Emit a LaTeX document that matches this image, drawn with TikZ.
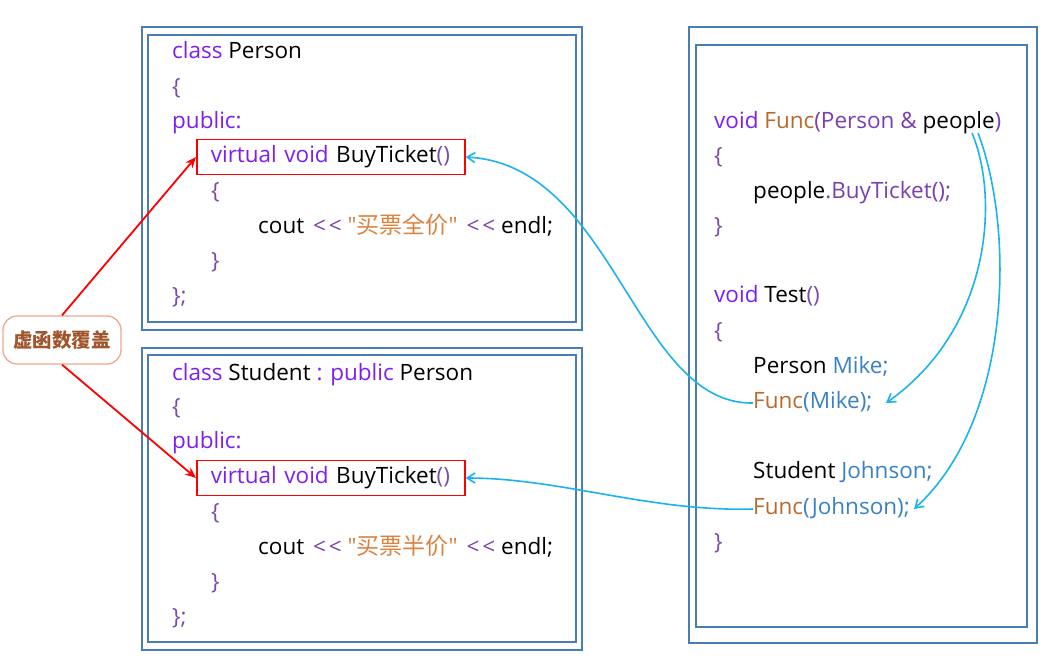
\documentclass[tikz,border=0pt]{standalone}
\usetikzlibrary{arrows.meta}
\usepackage{fontspec}
\setmainfont{Open Sans}[Ligatures=NoCommon]
\newfontfamily\cjk{Noto Sans CJK SC}
\definecolor{boxblue}{HTML}{4A7EB0}
\definecolor{kwc}{HTML}{7B1FF5}
\definecolor{brc}{HTML}{7A4BA8}
\definecolor{opc}{HTML}{7A3FB0}
\definecolor{strc}{HTML}{D9823F}
\definecolor{fnc}{HTML}{B86A2C}
\definecolor{varc}{HTML}{3A82C4}
\definecolor{arrblue}{HTML}{1CB2EE}
\definecolor{lblborder}{HTML}{F2A68C}
\definecolor{lbltext}{HTML}{A0552A}
\newcommand{\kw}[1]{\textcolor{kwc}{#1}}
\newcommand{\br}[1]{\textcolor{brc}{#1}}
\newcommand{\op}[1]{\textcolor{opc}{#1}}
\newcommand{\str}[1]{\textcolor{strc}{#1}}
\newcommand{\fn}[1]{\textcolor{fnc}{#1}}
\newcommand{\vr}[1]{\textcolor{varc}{#1}}
\newcommand{\shl}{\op{{<}\kern3pt{<}}}
\newcommand{\dq}{\textquotedbl}
\begin{document}
\begin{tikzpicture}[x=1pt,y=-1pt,
  code/.style={anchor=west,inner sep=0pt,text height=15pt,text depth=5pt,font=\fontsize{22.5}{25}\selectfont},
  frame/.style={draw=boxblue,line width=1.8pt},
  redbox/.style={draw=red,line width=1.6pt,anchor=west,inner ysep=0pt,inner xsep=14pt,minimum height=35pt,text width=240pt,align=left,text height=15pt,text depth=5pt,font=\fontsize{22.5}{25}\selectfont},
  redarr/.style={draw=red,line width=1.8pt,-{Stealth[length=11pt,width=9pt]}},
  bluearr/.style={draw=arrblue,line width=1.6pt,-{Straight Barb[length=8pt,width=10pt]}}
]
\useasboundingbox (0,0) rectangle (1047,665);
% frames
\draw[frame] (142,27) rectangle (582,330);
\draw[frame] (148,35) rectangle (576,322);
\draw[frame] (142,348) rectangle (582,650);
\draw[frame] (148,355) rectangle (576,642);
\draw[frame] (689,27) rectangle (1037,643);
\draw[frame] (696,45) rectangle (1027,627);
% Person
\node[code] (p1) at (172,53) {\kw{class} Person};
\node[code] (p2) at (172,89) {\br{\{}};
\node[code] (p3) at (172,123) {\kw{public:}};
\node[redbox] (pv) at (196,157) {\kw{virtual void} BuyTicket\br{()}};
\node[code] (p5) at (211,193) {\br{\{}};
\node[code] (p6) at (258,228) {cout\kern3pt{} \shl{} \str{\dq{\cjk\fontsize{23}{25}\selectfont 买票全价}\dq}\kern3pt{} \shl{} endl;};
\node[code] (p7) at (211,263) {\br{\}}};
\node[code] (p8) at (172,298) {\br{\};}};
% Student
\node[code] (s1) at (172,375) {\kw{class} Student \kw{:} \kw{public} Person};
\node[code] (s2) at (172,409) {\br{\{}};
\node[code] (s3) at (172,443) {\kw{public:}};
\node[redbox] (sv) at (196,478) {\kw{virtual void} BuyTicket\br{()}};
\node[code] (s5) at (211,514) {\br{\{}};
\node[code] (s6) at (258,549) {cout\kern3pt{} \shl{} \str{\dq{\cjk\fontsize{23}{25}\selectfont 买票半价}\dq}\kern3pt{} \shl{} endl;};
\node[code] (s7) at (211,584) {\br{\}}};
\node[code] (s8) at (172,619) {\br{\};}};
% right
\node[code] (r1) at (714,123) {\kw{void} \fn{Func}\op{(Person \&} people\op{)}};
\node[code] (r2) at (714,158) {\br{\{}};
\node[code] (r3) at (753,193) {people\op{.BuyTicket();}};
\node[code] (r4) at (714,228) {\br{\}}};
\node[code] (r5) at (714,297) {\kw{void} Test\br{()}};
\node[code] (r6) at (714,333) {\br{\{}};
\node[code] (r7) at (753,368) {Person \vr{Mike;}};
\node[code] (r8) at (753,403) {\fn{Func}\vr{(Mike);}};
\node[code] (r9) at (753,473) {Student \vr{Johnson;}};
\node[code] (r10) at (753,509) {\fn{Func}\vr{(Johnson);}};
\node[code] (r11) at (714,544) {\br{\}}};
% label
\node[draw=lblborder,line width=1.3pt,rounded corners=14pt,minimum width=118pt,minimum height=48pt,inner sep=0pt,text=lbltext,font=\cjk\bfseries\fontsize{19.5}{22}\selectfont] (lbl) at (62,340) {虚函数覆盖};
% red arrows
\draw[redarr] (lbl.north) -- (pv.west);
\draw[redarr] (lbl.south) -- (sv.west);
% blue arrows
\coordinate (pa) at (972,133);
\coordinate (pb) at (978,133);
\coordinate (mikeend) at (886,403);
\coordinate (johnend) at (914,509);
\draw[bluearr] (r8.west) .. controls (635,405) and (615,165) .. (pv.east);
\draw[bluearr] (r10.west) .. controls (650,512) and (560,478) .. (sv.east);
\draw[bluearr] (pa) .. controls (1000,200) and (990,330) .. (mikeend);
\draw[bluearr] (pb) .. controls (1015,230) and (1012,420) .. (johnend);
\end{tikzpicture}
\end{document}
